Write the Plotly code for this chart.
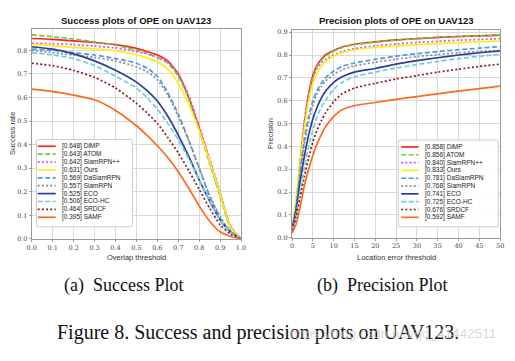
import plotly.graph_objects as go

W, H = 515, 361

# ---------------- data ----------------
trackers = ["DiMP", "ATOM", "SiamRPN++", "Ours", "DaSiamRPN", "SiamRPN",
            "ECO", "ECO-HC", "SRDCF", "SAMF"]
success_auc = [0.648, 0.643, 0.642, 0.631, 0.569, 0.557, 0.525, 0.506, 0.464, 0.395]
precision_20 = [0.858, 0.856, 0.840, 0.833, 0.781, 0.768, 0.741, 0.725, 0.676, 0.592]

overlap_thr = [0.0, 0.1, 0.2, 0.3, 0.4, 0.5, 0.55, 0.6, 0.65, 0.7, 0.75, 0.8, 0.85, 0.9, 0.95, 1.0]
succ_dimp = [0.850, 0.846, 0.840, 0.833, 0.824, 0.808, 0.795, 0.780, 0.755, 0.700, 0.600, 0.470, 0.330, 0.190, 0.050, 0.0]
succ_atom = [0.865, 0.858, 0.848, 0.836, 0.822, 0.800, 0.787, 0.770, 0.745, 0.690, 0.595, 0.460, 0.320, 0.180, 0.045, 0.0]
succ_siamrpnpp = [0.830, 0.828, 0.824, 0.818, 0.810, 0.795, 0.785, 0.770, 0.750, 0.700, 0.610, 0.480, 0.340, 0.200, 0.055, 0.0]
succ_ours = [0.825, 0.820, 0.812, 0.806, 0.798, 0.780, 0.768, 0.750, 0.720, 0.660, 0.570, 0.460, 0.330, 0.190, 0.050, 0.0]
succ_dasiam = [0.805, 0.800, 0.790, 0.780, 0.765, 0.745, 0.725, 0.690, 0.620, 0.530, 0.420, 0.300, 0.180, 0.090, 0.030, 0.0]
succ_siamrpn = [0.800, 0.790, 0.780, 0.770, 0.755, 0.730, 0.710, 0.675, 0.610, 0.520, 0.415, 0.300, 0.185, 0.095, 0.030, 0.0]
succ_eco = [0.815, 0.805, 0.785, 0.755, 0.715, 0.665, 0.630, 0.585, 0.520, 0.440, 0.350, 0.250, 0.160, 0.080, 0.030, 0.0]
succ_ecohc = [0.790, 0.780, 0.765, 0.735, 0.690, 0.640, 0.600, 0.550, 0.490, 0.420, 0.340, 0.250, 0.160, 0.080, 0.030, 0.0]
succ_srdcf = [0.745, 0.735, 0.715, 0.685, 0.640, 0.575, 0.535, 0.490, 0.430, 0.365, 0.290, 0.210, 0.130, 0.060, 0.020, 0.0]
succ_samf = [0.635, 0.625, 0.610, 0.590, 0.545, 0.480, 0.440, 0.395, 0.345, 0.285, 0.215, 0.140, 0.075, 0.030, 0.010, 0.0]

error_thr = [0, 1, 2, 3, 4, 5, 6, 7, 8, 10, 12, 15, 20, 25, 30, 35, 40, 45, 50]
prec_dimp = [0.03, 0.15, 0.33, 0.50, 0.63, 0.71, 0.755, 0.78, 0.80, 0.82, 0.835, 0.847, 0.858, 0.866, 0.872, 0.877, 0.881, 0.884, 0.887]
prec_atom = [0.03, 0.15, 0.33, 0.49, 0.62, 0.70, 0.75, 0.775, 0.795, 0.817, 0.832, 0.845, 0.856, 0.865, 0.871, 0.876, 0.880, 0.883, 0.886]
prec_siamrpnpp = [0.03, 0.16, 0.35, 0.52, 0.63, 0.70, 0.74, 0.765, 0.78, 0.80, 0.815, 0.828, 0.840, 0.848, 0.855, 0.860, 0.865, 0.868, 0.872]
prec_ours = [0.04, 0.17, 0.34, 0.48, 0.60, 0.675, 0.72, 0.75, 0.77, 0.795, 0.81, 0.822, 0.833, 0.839, 0.845, 0.850, 0.854, 0.858, 0.861]
prec_dasiam = [0.03, 0.14, 0.30, 0.43, 0.53, 0.60, 0.645, 0.675, 0.70, 0.73, 0.75, 0.765, 0.781, 0.795, 0.806, 0.815, 0.823, 0.830, 0.837]
prec_siamrpn = [0.03, 0.13, 0.28, 0.41, 0.51, 0.58, 0.63, 0.66, 0.685, 0.715, 0.735, 0.752, 0.768, 0.782, 0.793, 0.802, 0.810, 0.816, 0.820]
prec_eco = [0.04, 0.12, 0.25, 0.36, 0.45, 0.52, 0.57, 0.61, 0.64, 0.68, 0.705, 0.725, 0.741, 0.760, 0.775, 0.788, 0.800, 0.810, 0.818]
prec_ecohc = [0.03, 0.10, 0.21, 0.31, 0.40, 0.47, 0.53, 0.57, 0.60, 0.65, 0.68, 0.705, 0.725, 0.743, 0.758, 0.772, 0.784, 0.794, 0.803]
prec_srdcf = [0.03, 0.09, 0.18, 0.27, 0.35, 0.42, 0.47, 0.51, 0.545, 0.595, 0.63, 0.655, 0.676, 0.695, 0.710, 0.725, 0.738, 0.750, 0.760]
prec_samf = [0.02, 0.06, 0.14, 0.23, 0.30, 0.36, 0.41, 0.45, 0.485, 0.53, 0.56, 0.578, 0.592, 0.606, 0.618, 0.630, 0.642, 0.653, 0.664]

success_series = [succ_dimp, succ_atom, succ_siamrpnpp, succ_ours, succ_dasiam,
                  succ_siamrpn, succ_eco, succ_ecohc, succ_srdcf, succ_samf]
precision_series = [prec_dimp, prec_atom, prec_siamrpnpp, prec_ours, prec_dasiam,
                    prec_siamrpn, prec_eco, prec_ecohc, prec_srdcf, prec_samf]

x_ticks_overlap = [0.0, 0.1, 0.2, 0.3, 0.4, 0.5, 0.6, 0.7, 0.8, 0.9, 1.0]
x_ticks_error = [0, 5, 10, 15, 20, 25, 30, 35, 40, 45, 50]
y_ticks_success = [0.0, 0.1, 0.2, 0.3, 0.4, 0.5, 0.6, 0.7, 0.8]
y_ticks_precision = [0.0, 0.1, 0.2, 0.3, 0.4, 0.5, 0.6, 0.7, 0.8, 0.9]

# ---------------- styles ----------------
colors = ["#ff2222", "#6ccc3a", "#dd55dd", "#ffee11", "#4a9be0",
          "#8c8c8c", "#2b3b9e", "#6ccfe0", "#8e1c1c", "#ff6a1a"]
DASH = "5px,2.5px"
DOT = "2px,2.2px"
dashes = ["solid", DASH, DOT, "solid", DASH, DOT, "solid", DASH, DOT, "solid"]
LW = 1.7

fig = go.Figure()

for name, ys, c, d in zip(trackers, success_series, colors, dashes):
    fig.add_trace(go.Scatter(x=overlap_thr, y=ys, mode="lines", name=name,
                             line=dict(color=c, width=LW, dash=d, shape="spline", smoothing=0.6),
                             xaxis="x", yaxis="y", showlegend=False))
for name, ys, c, d in zip(trackers, precision_series, colors, dashes):
    fig.add_trace(go.Scatter(x=error_thr, y=ys, mode="lines", name=name,
                             line=dict(color=c, width=LW, dash=d, shape="spline", smoothing=0.6),
                             xaxis="x2", yaxis="y2", showlegend=False))


def px(x):
    return x / W


def py(y):
    return 1 - y / H


tickfont = dict(family="DejaVu Serif", size=6.5, color="#444444")
axis_common = dict(showgrid=True, gridcolor="#d9d9d9", gridwidth=1,
                   showline=True, linecolor="#9a9a9a", linewidth=1, mirror=True,
                   ticks="outside", ticklen=2, tickcolor="#9a9a9a",
                   ticklabeloverflow="allow",
                   tickfont=tickfont, zeroline=False, fixedrange=True)

fig.update_layout(
    width=W, height=H,
    margin=dict(l=0, r=0, t=0, b=0),
    paper_bgcolor="white", plot_bgcolor="white",
    showlegend=False,
    xaxis=dict(domain=[px(27.3), px(240.7)], range=[0, 1], anchor="y",
               tickvals=x_ticks_overlap, tickformat=".1f", **axis_common),
    yaxis=dict(domain=[py(241.2), py(28)], range=[0, 0.892], anchor="x",
               tickvals=y_ticks_success, tickformat=".1f", **axis_common),
    xaxis2=dict(domain=[px(292.7), px(505)], range=[0, 50], anchor="y2",
                tickvals=x_ticks_error, **axis_common),
    yaxis2=dict(domain=[py(240), py(29.3)], range=[0, 0.91], anchor="x2",
                tickvals=y_ticks_precision, tickformat=".1f", **axis_common),
)

ann = []
shapes = []
sans = "Liberation Sans"

# titles
ann.append(dict(x=px(134), y=py(19.5), text="<b>Success plots of OPE on UAV123</b>",
                font=dict(family=sans, size=9.5, color="#111111")))
ann.append(dict(x=px(399), y=py(20), text="<b>Precision plots of OPE on UAV123</b>",
                font=dict(family=sans, size=9.5, color="#111111")))
# axis titles
ann.append(dict(x=px(134), y=py(260), text="Overlap threshold",
                font=dict(family=sans, size=7.5, color="#333333")))
ann.append(dict(x=px(399), y=py(260), text="Location error threshold",
                font=dict(family=sans, size=7.5, color="#333333")))
ann.append(dict(x=px(7), y=py(134), text="Success rate", textangle=-90,
                font=dict(family=sans, size=7.5, color="#333333")))
ann.append(dict(x=px(270), y=py(134), text="Precision", textangle=-90,
                font=dict(family=sans, size=7.5, color="#333333")))
# sub captions
ann.append(dict(x=px(120.5), y=py(288), text="(a)  Success Plot",
                font=dict(family="Liberation Serif", size=18, color="#111111")))
ann.append(dict(x=px(385), y=py(288), text="(b)  Precision Plot",
                font=dict(family="Liberation Serif", size=18, color="#111111")))
ann.append(dict(x=px(258), y=py(336), text="Figure 8. Success and precision plots on UAV123.",
                font=dict(family="Liberation Serif", size=20, color="#111111")))
ann.append(dict(x=px(503), y=py(337), xanchor="right", text="https://blog.csdn.net/qq_41442511",
                font=dict(family=sans, size=13.5, color="rgba(205,205,205,0.75)")))


def legend(x0, x1, y0, y1, lx0, lx1, tx, ytop, step, labels):
    r = 2.0
    X0, X1, Y0, Y1 = px(x0), px(x1), py(y1), py(y0)
    rx, ry = r / W, r / H
    path = (f"M {X0+rx},{Y0} L {X1-rx},{Y0} Q {X1},{Y0} {X1},{Y0+ry} "
            f"L {X1},{Y1-ry} Q {X1},{Y1} {X1-rx},{Y1} L {X0+rx},{Y1} "
            f"Q {X0},{Y1} {X0},{Y1-ry} L {X0},{Y0+ry} Q {X0},{Y0} {X0+rx},{Y0} Z")
    shapes.append(dict(type="path", path=path, xref="paper", yref="paper",
                       fillcolor="rgba(255,255,255,0.9)", line=dict(color="#cccccc", width=1),
                       layer="above"))
    for i, (lab, c, d) in enumerate(zip(labels, colors, dashes)):
        yy = ytop + i * step
        shapes.append(dict(type="line", xref="paper", yref="paper",
                           x0=px(lx0), x1=px(lx1), y0=py(yy), y1=py(yy),
                           line=dict(color=c, width=LW, dash=d), layer="above"))
        ann.append(dict(x=px(tx), y=py(yy), xanchor="left", text=lab,
                        font=dict(family=sans, size=6.5, color="#222222")))


succ_labels = [f"[{v:.3f}] {n}" for v, n in zip(success_auc, trackers)]
prec_labels = [f"[{v:.3f}] {n}" for v, n in zip(precision_20, trackers)]
legend(32, 130, 140.5, 229, 33.3, 51.7, 56.5, 147.3, 8.0, succ_labels)
legend(401, 503, 141, 229, 404, 421.7, 426, 148, 7.93, prec_labels)

for a in ann:
    a.setdefault("xref", "paper")
    a.setdefault("yref", "paper")
    a.setdefault("showarrow", False)
    a.setdefault("xanchor", "center")
    a.setdefault("yanchor", "middle")

fig.update_layout(annotations=ann, shapes=shapes)
fig.write_html("out.html", config={"displayModeBar": False, "staticPlot": True},
               post_script="document.body.style.margin='0px';document.body.style.overflow='hidden';")
